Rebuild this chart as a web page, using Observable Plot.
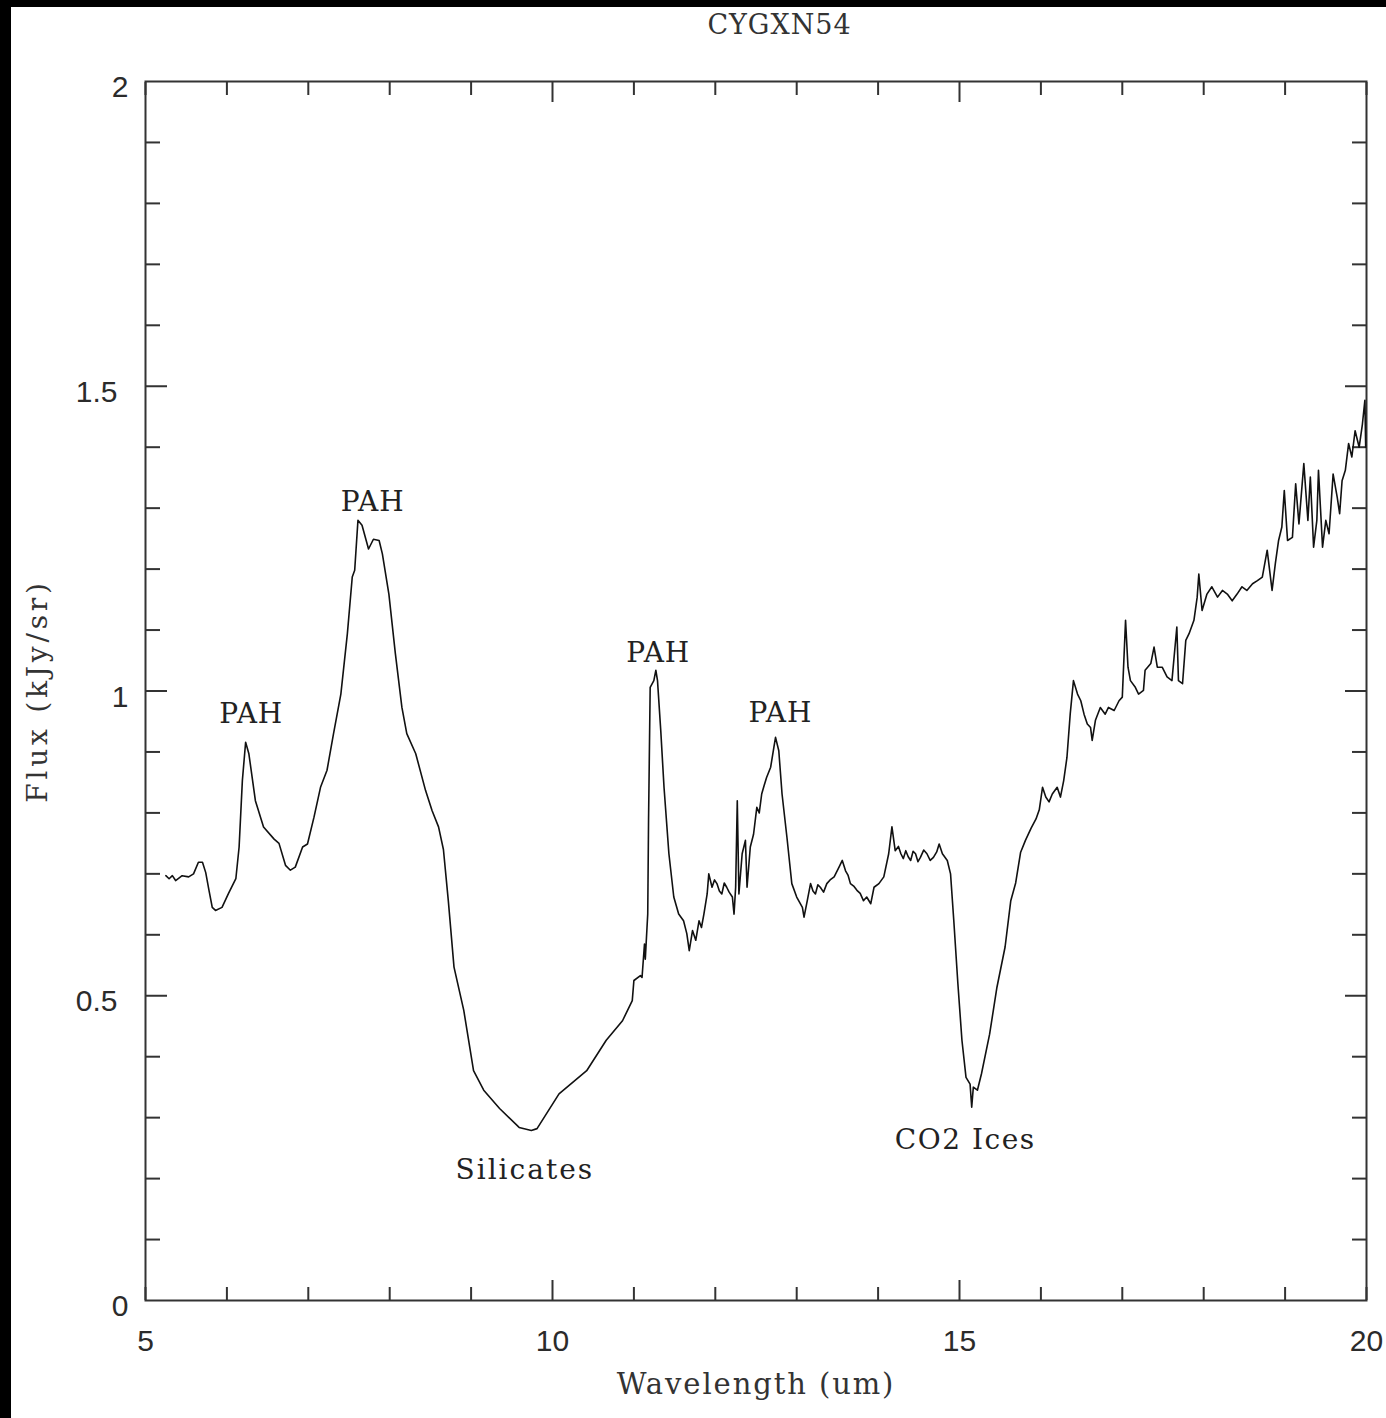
<!DOCTYPE html>
<html>
<head>
<meta charset="utf-8">
<script src="https://cdn.jsdelivr.net/npm/d3@7"></script>
<script src="https://cdn.jsdelivr.net/npm/@observablehq/plot@0.6"></script>
<style>
  html, body { margin: 0; padding: 0; background: #000; }
  body { width: 1386px; height: 1418px; position: relative; overflow: hidden; }
  #sheet { position: absolute; left: 11px; top: 7px; width: 1375px; height: 1411px; background: #fff; }
  #sheet svg { display: block; }
</style>
</head>
<body>
<div id="sheet"></div>
<script>
// ---- Data ----
const wavelength = [
  5.25, 5.29, 5.33, 5.37, 5.45, 5.53, 5.59, 5.65, 5.70, 5.74, 5.78, 5.82, 5.86, 5.94, 6.02, 6.11,
  6.15, 6.19, 6.23, 6.27, 6.35, 6.45, 6.58, 6.64, 6.72, 6.78, 6.84, 6.93, 6.99, 7.07, 7.15, 7.23,
  7.31, 7.40, 7.48, 7.54, 7.57, 7.61, 7.66, 7.74, 7.80, 7.87, 7.91, 7.99, 8.07, 8.15, 8.21, 8.32,
  8.44, 8.52, 8.60, 8.66, 8.72, 8.79, 8.91, 9.03, 9.155, 9.35, 9.59, 9.74, 9.81, 10.08, 10.42, 10.66,
  10.86, 10.98, 11.00, 11.08, 11.10, 11.13, 11.14, 11.17, 11.18, 11.20, 11.245, 11.27, 11.29, 11.33, 11.37, 11.43,
  11.49, 11.55, 11.61, 11.65, 11.68, 11.72, 11.76, 11.80, 11.83, 11.86, 11.90, 11.92, 11.96, 11.99, 12.02, 12.05,
  12.08, 12.11, 12.14, 12.17, 12.21, 12.23, 12.25, 12.27, 12.29, 12.33, 12.37, 12.39, 12.43, 12.47, 12.51, 12.54,
  12.57, 12.60, 12.63, 12.68, 12.72, 12.74, 12.78, 12.82, 12.88, 12.94, 13.00, 13.07, 13.09, 13.13, 13.17, 13.20,
  13.23, 13.26, 13.29, 13.33, 13.37, 13.41, 13.46, 13.52, 13.56, 13.60, 13.63, 13.66, 13.70, 13.74, 13.78, 13.82,
  13.86, 13.91, 13.95, 14.01, 14.07, 14.13, 14.17, 14.21, 14.25, 14.28, 14.31, 14.34, 14.37, 14.40, 14.43, 14.46,
  14.49, 14.52, 14.56, 14.60, 14.64, 14.68, 14.72, 14.75, 14.79, 14.85, 14.89, 14.93, 14.98, 15.03, 15.08, 15.13,
  15.15, 15.17, 15.22, 15.27, 15.37, 15.46, 15.56, 15.63, 15.69, 15.75, 15.81, 15.88, 15.94, 15.98, 16.02, 16.06,
  16.10, 16.14, 16.20, 16.24, 16.28, 16.32, 16.36, 16.40, 16.45, 16.49, 16.53, 16.57, 16.61, 16.63, 16.67, 16.73,
  16.79, 16.83, 16.90, 16.96, 17.00, 17.04, 17.07, 17.10, 17.16, 17.20, 17.26, 17.28, 17.35, 17.39, 17.43, 17.49,
  17.55, 17.61, 17.67, 17.69, 17.74, 17.78, 17.82, 17.88, 17.92, 17.94, 17.98, 18.04, 18.10, 18.17, 18.23, 18.29,
  18.35, 18.41, 18.47, 18.53, 18.60, 18.66, 18.72, 18.78, 18.84, 18.88, 18.92, 18.96, 18.99, 19.03, 19.09, 19.13,
  19.17, 19.23, 19.28, 19.31, 19.35, 19.39, 19.41, 19.46, 19.50, 19.54, 19.59, 19.64, 19.67, 19.70, 19.74, 19.78,
  19.82, 19.86, 19.91, 19.95, 19.98, 19.99
];
const flux = [
  0.697, 0.692, 0.697, 0.689, 0.697, 0.695, 0.700, 0.719, 0.719, 0.702, 0.673, 0.645, 0.640, 0.645, 0.668, 0.692,
  0.744, 0.853, 0.916, 0.897, 0.820, 0.777, 0.757, 0.750, 0.714, 0.706, 0.711, 0.744, 0.749, 0.793, 0.842, 0.870,
  0.930, 0.995, 1.094, 1.187, 1.198, 1.280, 1.272, 1.233, 1.249, 1.247, 1.225, 1.159, 1.061, 0.973, 0.930, 0.897,
  0.837, 0.804, 0.777, 0.740, 0.656, 0.547, 0.476, 0.377, 0.345, 0.315, 0.284, 0.279, 0.282, 0.339, 0.377, 0.427,
  0.459, 0.492, 0.525, 0.533, 0.530, 0.585, 0.560, 0.634, 0.788, 1.006, 1.017, 1.034, 1.017, 0.935, 0.842, 0.733,
  0.662, 0.634, 0.623, 0.602, 0.574, 0.607, 0.591, 0.623, 0.612, 0.634, 0.667, 0.700, 0.678, 0.690, 0.684, 0.672,
  0.667, 0.685, 0.678, 0.670, 0.662, 0.634, 0.678, 0.820, 0.667, 0.733, 0.755, 0.678, 0.744, 0.765, 0.809, 0.800,
  0.831, 0.845, 0.858, 0.875, 0.908, 0.924, 0.902, 0.831, 0.760, 0.684, 0.662, 0.645, 0.629, 0.656, 0.684, 0.672,
  0.667, 0.682, 0.678, 0.670, 0.684, 0.690, 0.695, 0.711, 0.722, 0.705, 0.698, 0.684, 0.680, 0.673, 0.668, 0.656,
  0.662, 0.651, 0.678, 0.684, 0.695, 0.733, 0.777, 0.738, 0.745, 0.733, 0.725, 0.738, 0.728, 0.722, 0.737, 0.733,
  0.720, 0.727, 0.739, 0.733, 0.722, 0.727, 0.736, 0.749, 0.733, 0.722, 0.700, 0.623, 0.520, 0.427, 0.366, 0.355,
  0.317, 0.350, 0.345, 0.372, 0.437, 0.514, 0.580, 0.656, 0.685, 0.735, 0.755, 0.775, 0.790, 0.805, 0.842, 0.826,
  0.818, 0.831, 0.842, 0.826, 0.853, 0.891, 0.962, 1.017, 0.995, 0.984, 0.962, 0.946, 0.940, 0.919, 0.952, 0.973,
  0.962, 0.973, 0.968, 0.984, 0.990, 1.116, 1.039, 1.017, 1.006, 0.995, 1.001, 1.034, 1.045, 1.072, 1.039, 1.039,
  1.023, 1.017, 1.105, 1.017, 1.012, 1.083, 1.094, 1.116, 1.154, 1.192, 1.132, 1.159, 1.171, 1.154, 1.165, 1.159,
  1.148, 1.159, 1.171, 1.165, 1.176, 1.181, 1.187, 1.231, 1.165, 1.209, 1.247, 1.269, 1.329, 1.247, 1.252, 1.340,
  1.274, 1.373, 1.280, 1.351, 1.236, 1.280, 1.362, 1.236, 1.280, 1.258, 1.356, 1.318, 1.291, 1.345, 1.362, 1.406,
  1.384, 1.427, 1.400, 1.438, 1.477, 1.400
];

// Feature annotations (text, wavelength, flux at text baseline)
const labelText = ["PAH", "PAH", "PAH", "PAH", "Silicates", "CO2 Ices"];
const labelX = [6.30, 7.79, 11.30, 12.80, 9.66, 15.07];
const labelY = [0.947, 1.296, 1.048, 0.949, 0.200, 0.249];

// Axis ticks
const xTickLabels = [5, 10, 15, 20];
const xMinorTicks = [5, 6, 7, 8, 9, 11, 12, 13, 14, 16, 17, 18, 19, 20];
const xMajorTicks = [10, 15];
const yIntLabels = [0, 1, 2];
const yHalfLabels = [0.5, 1.5];
const yMinorTicks = [0.1, 0.2, 0.3, 0.4, 0.6, 0.7, 0.8, 0.9, 1.1, 1.2, 1.3, 1.4, 1.6, 1.7, 1.8, 1.9];
const yMajorTicks = [0.5, 1, 1.5];

const title = "CYGXN54";
const xLabel = "Wavelength (um)";
const yLabel = "Flux (kJy/sr)";

const spectrum = wavelength.map((w, i) => ({w, f: flux[i]}));
const labels = labelText.map((t, i) => ({t, x: labelX[i], y: labelY[i]}));

const serif = "DejaVu Serif";
const sans = "Liberation Sans, Arial, sans-serif";
const tickColor = "#333";

const chart = Plot.plot({
  width: 1375,
  height: 1411,
  marginLeft: 134,
  marginRight: 20,
  marginTop: 74,
  marginBottom: 118,
  style: {background: "#fff", overflow: "visible"},
  x: {domain: [5, 20], type: "linear"},
  y: {domain: [0, 2], type: "linear"},
  marks: [
    // tick marks (inward)
    Plot.axisX({anchor: "bottom", ticks: xMinorTicks, tickSize: -13, tickFormat: () => "", stroke: tickColor, strokeWidth: 2}),
    Plot.axisX({anchor: "top", ticks: xMinorTicks, tickSize: -13, tickFormat: () => "", stroke: tickColor, strokeWidth: 2}),
    Plot.axisX({anchor: "bottom", ticks: xMajorTicks, tickSize: -20, tickFormat: () => "", stroke: tickColor, strokeWidth: 2}),
    Plot.axisX({anchor: "top", ticks: xMajorTicks, tickSize: -20, tickFormat: () => "", stroke: tickColor, strokeWidth: 2}),
    Plot.axisY({anchor: "left", ticks: yMinorTicks, tickSize: -15, tickFormat: () => "", stroke: tickColor, strokeWidth: 2}),
    Plot.axisY({anchor: "right", ticks: yMinorTicks, tickSize: -15, tickFormat: () => "", stroke: tickColor, strokeWidth: 2}),
    Plot.axisY({anchor: "left", ticks: yMajorTicks, tickSize: -22, tickFormat: () => "", stroke: tickColor, strokeWidth: 2}),
    Plot.axisY({anchor: "right", ticks: yMajorTicks, tickSize: -22, tickFormat: () => "", stroke: tickColor, strokeWidth: 2}),
    // tick labels
    Plot.axisX({anchor: "bottom", ticks: xTickLabels, tickSize: 0, tickPadding: 29, fontSize: 30, fontFamily: sans, fill: "#2b2b2b", tickFormat: d => String(d), label: null}),
    Plot.axisY({anchor: "left", ticks: yIntLabels, tickSize: 0, tickPadding: 17, fontSize: 30, fontFamily: sans, fill: "#2b2b2b", dy: 6, tickFormat: d => String(d), label: null}),
    Plot.axisY({anchor: "left", ticks: yHalfLabels, tickSize: 0, tickPadding: 28, fontSize: 30, fontFamily: sans, fill: "#2b2b2b", dy: 6, tickFormat: d => String(d), label: null}),
    // frame
    Plot.frame({stroke: tickColor, strokeWidth: 2}),
    // spectrum
    Plot.line(spectrum, {x: "w", y: "f", stroke: "#111", strokeWidth: 1.6, strokeLinejoin: "round"}),
    // annotations
    Plot.text(labels, {x: "x", y: "y", text: "t", fontFamily: serif, fontSize: 28, fill: "#222", lineAnchor: "bottom", textAnchor: "middle"}),
    // title and axis labels
    Plot.text([title], {frameAnchor: "top", dx: 23.5, dy: -48, lineAnchor: "bottom", textAnchor: "middle", fontFamily: serif, fontSize: 27, fill: "#333"}),
    Plot.text([xLabel], {frameAnchor: "bottom", dy: 93, lineAnchor: "bottom", textAnchor: "middle", fontFamily: serif, fontSize: 29, fill: "#333"}),
    Plot.text([yLabel], {frameAnchor: "left", dx: -107, rotate: -90, lineAnchor: "middle", textAnchor: "middle", fontFamily: serif, fontSize: 28, fill: "#333"})
  ]
});

document.getElementById("sheet").appendChild(chart);

const spacing = new Map([
  ["PAH", 1], ["Silicates", 2], ["CO2 Ices", 1.5],
  [xLabel, 1.9], [yLabel, 3.8], [title, 1]
]);
chart.querySelectorAll("text").forEach(el => {
  const s = spacing.get(el.textContent);
  if (s != null) {
    el.setAttribute("letter-spacing", s);
    el.style.letterSpacing = s + "px";
  }
});
</script>
</body>
</html>
